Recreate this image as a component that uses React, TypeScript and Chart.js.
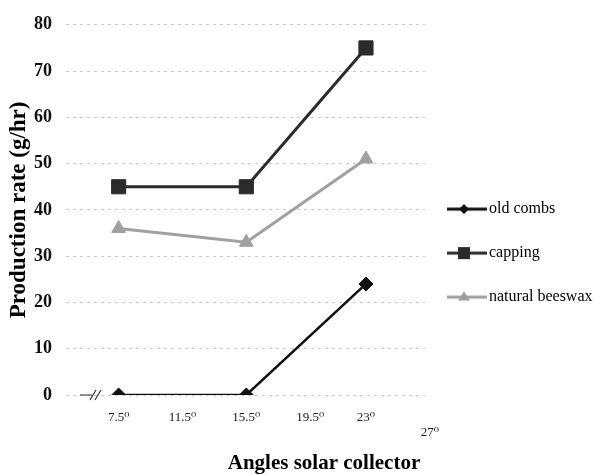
import React, { useEffect, useRef } from "react";
import { Chart, registerables } from "chart.js";

Chart.register(...registerables);

const angles = [7.5, 15.5, 23];
const angleTicks = [7.5, 11.5, 15.5, 19.5, 23, 27];
const tickLabels = ["7.5⁰", "11.5⁰", "15.5⁰", "19.5⁰", "23⁰", "27⁰"];
const oldCombs = [0, 0, 24];
const capping = [45, 45, 75];
const naturalBeeswax = [36, 33, 51];
const seriesNames = ["old combs", "capping", "natural beeswax"];
const xTitle = "Angles solar collector";
const yTitle = "Production rate (g/hr)";

const SERIF = "'Liberation Serif', 'DejaVu Serif', serif";

function makeLegendIcon(style: string, color: string, lineW: number, r: number) {
  const w = 40;
  const h = 18;
  const cx = 17;
  const cy = 9;
  const c = document.createElement("canvas");
  c.width = w;
  c.height = h;
  const ctx = c.getContext("2d")!;
  ctx.strokeStyle = color;
  ctx.fillStyle = color;
  ctx.lineWidth = lineW;
  ctx.beginPath();
  ctx.moveTo(0, cy);
  ctx.lineTo(w, cy);
  ctx.stroke();
  ctx.beginPath();
  if (style === "rectRot") {
    ctx.moveTo(cx, cy - r);
    ctx.lineTo(cx + r, cy);
    ctx.lineTo(cx, cy + r);
    ctx.lineTo(cx - r, cy);
  } else if (style === "rect") {
    ctx.rect(cx - r, cy - r, 2 * r, 2 * r);
  } else {
    ctx.moveTo(cx, cy - r);
    ctx.lineTo(cx + r, cy + r * 0.6);
    ctx.lineTo(cx - r, cy + r * 0.6);
  }
  ctx.closePath();
  ctx.fill();
  return c;
}

export default function App() {
  const ref = useRef<HTMLCanvasElement | null>(null);

  useEffect(() => {
    document.body.style.margin = "0";
    const icons = [
      makeLegendIcon("rectRot", "#111111", 3, 5),
      makeLegendIcon("rect", "#2b2b2b", 3, 6),
      makeLegendIcon("triangle", "#a0a0a0", 3, 6),
    ];

    const breakMark = {
      id: "breakMark",
      afterDraw(chart: any) {
        const { ctx, chartArea } = chart;
        const y = chart.scales.y.getPixelForValue(0);
        const x = chartArea.left + 28;
        ctx.save();
        ctx.strokeStyle = "#333";
        ctx.lineWidth = 1.2;
        ctx.beginPath();
        ctx.moveTo(x - 14, y);
        ctx.lineTo(x - 2, y);
        ctx.moveTo(x - 4, y + 5);
        ctx.lineTo(x + 2, y - 5);
        ctx.moveTo(x + 1, y + 5);
        ctx.lineTo(x + 7, y - 5);
        ctx.stroke();
        ctx.restore();
      },
    };

    const bottomTitle = {
      id: "bottomTitle",
      afterDraw(chart: any) {
        const { ctx } = chart;
        ctx.save();
        ctx.font = `bold 21px ${SERIF}`;
        ctx.fillStyle = "#000";
        ctx.textAlign = "center";
        ctx.textBaseline = "middle";
        ctx.fillText(xTitle, 324, 464);
        ctx.restore();
      },
    };

    const mk = (v: number[]) => v.map((y, i) => ({ x: angles[i], y }));

    const chart = new Chart(ref.current!, {
      type: "line",
      data: {
        datasets: [
          {
            label: seriesNames[0],
            data: mk(oldCombs),
            borderColor: "#111111",
            backgroundColor: "#111111",
            borderWidth: 2.5,
            pointStyle: "rectRot",
            pointRadius: 7,
            pointBorderWidth: 1,
          },
          {
            label: seriesNames[1],
            data: mk(capping),
            borderColor: "#2b2b2b",
            backgroundColor: "#2b2b2b",
            borderWidth: 3,
            pointStyle: "rect",
            pointRadius: 10,
            pointBorderWidth: 1,
          },
          {
            label: seriesNames[2],
            data: mk(naturalBeeswax),
            borderColor: "#a0a0a0",
            backgroundColor: "#a0a0a0",
            borderWidth: 3,
            pointStyle: "triangle",
            pointRadius: 8,
            pointBorderWidth: 1,
          },
        ],
      },
      options: {
        animation: false,
        responsive: true,
        maintainAspectRatio: false,
        layout: { padding: { left: 5, top: 22, right: 0, bottom: 0 } },
        plugins: {
          tooltip: { enabled: false },
          title: { display: false },
          legend: {
            position: "right",
            maxWidth: 170,
            title: { display: true, text: "", font: { size: 6 }, padding: 1 },
            labels: {
              usePointStyle: true,
              pointStyleWidth: 28,
              padding: 28,
              color: "#000",
              font: { family: SERIF, size: 16 },
              generateLabels: (c: any) => {
                const items = Chart.defaults.plugins.legend.labels.generateLabels(c);
                return items.map((it: any, i: number) => ({ ...it, pointStyle: icons[i] }));
              },
            },
          },
        },
        scales: {
          x: {
            type: "linear",
            min: 4.2,
            max: 26.7,
            grid: { display: false, drawTicks: false },
            border: { display: false },
            afterBuildTicks: (axis: any) => {
              axis.ticks = angleTicks.map((v) => ({ value: v }));
            },
            afterFit: (scale: any) => {
              scale.height = 80;
            },
            ticks: {
              autoSkip: false,
              maxRotation: 0,
              padding: 15,
              color: "#222",
              font: { family: SERIF, size: 13, lineHeight: 1.15 },
              callback: (v: any) => {
                const i = angleTicks.indexOf(Number(v));
                const t = i >= 0 ? tickLabels[i] : "";
                return i === angleTicks.length - 1 ? ["", t] : t;
              },
            },
          },
          y: {
            min: 0,
            max: 80,
            afterFit: (scale: any) => {
              scale.width = 61;
            },
            grid: {
              color: "rgba(150,150,150,0.5)",
              lineWidth: 1,
              drawTicks: false,
            },
            border: { display: false, dash: [3, 4] },
            ticks: {
              stepSize: 10,
              padding: 14,
              color: "#111",
              font: { family: SERIF, size: 18, weight: "bold" },
            },
            title: {
              display: true,
              text: yTitle,
              color: "#000",
              font: { family: SERIF, size: 23, weight: "bold" },
              padding: { top: 0, bottom: 4 },
            },
          },
        },
      },
      plugins: [breakMark, bottomTitle],
    } as any);

    return () => chart.destroy();
  }, []);

  return (
    <div style={{ width: 595, height: 475, position: "relative" }}>
      <canvas ref={ref} />
    </div>
  );
}
